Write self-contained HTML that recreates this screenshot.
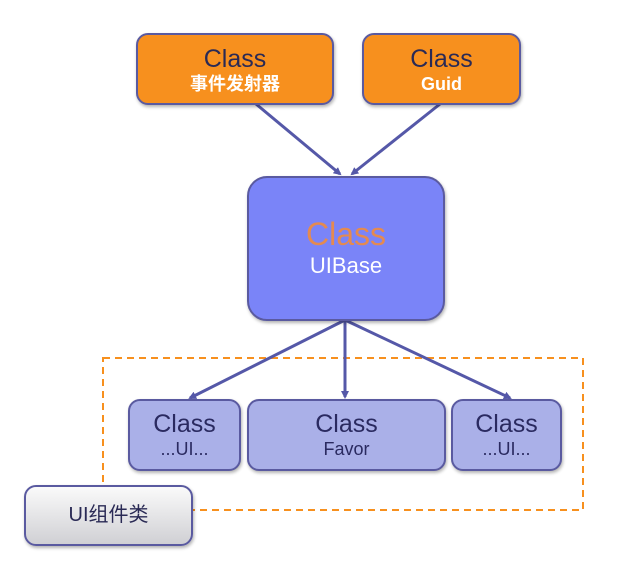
<!DOCTYPE html>
<html><head><meta charset="utf-8"><style>
body{margin:0;width:644px;height:568px;background:#fff;position:relative;overflow:hidden;font-family:"Liberation Sans","Noto Sans CJK SC",sans-serif}
.b{position:absolute;box-sizing:border-box;border:2px solid #5a5aa0;border-radius:12px;text-align:center;box-shadow:1px 2px 3px rgba(0,0,0,.3)}
.o{background:#f7901e;color:#2a2a55}
.p{background:#aab0e8;color:#2a2a60}
.t{font-size:25px;line-height:28px}
.s{font-size:18px;line-height:22px}
.w{color:#fff;font-weight:bold}
svg{position:absolute;left:0;top:0}
</style></head><body>
<svg width="644" height="568">
<defs><marker id="a" markerWidth="8" markerHeight="8" refX="6" refY="4" orient="auto" markerUnits="userSpaceOnUse"><path d="M0,0 L8,4 L0,8 z" fill="#5558a8"/></marker></defs>
<rect x="103" y="358" width="480" height="152" fill="none" stroke="#f7901e" stroke-width="2" stroke-dasharray="7,5"/>
<g stroke="#5558a8" stroke-width="3" fill="none" marker-end="url(#a)">
<line x1="256" y1="104" x2="340" y2="174"/>
<line x1="440" y1="104" x2="352" y2="174"/>
<line x1="345" y1="320" x2="190" y2="398"/>
<line x1="345" y1="320" x2="345" y2="397"/>
<line x1="345" y1="320" x2="510" y2="398"/>
</g>
</svg>
<div class="b o" style="left:136px;top:33px;width:198px;height:72px;padding-top:10px"><div class="t">Class</div><div class="s w">事件发射器</div></div>
<div class="b o" style="left:362px;top:33px;width:159px;height:72px;padding-top:10px"><div class="t">Class</div><div class="s w">Guid</div></div>
<div class="b" style="left:247px;top:176px;width:198px;height:145px;background:#7a84f8;border-radius:20px;padding-top:38px"><div style="font-size:32px;line-height:36px;color:#e48a50">Class</div><div style="font-size:22px;line-height:28px;color:#fff">UIBase</div></div>
<div class="b p" style="left:128px;top:399px;width:113px;height:72px;padding-top:9px"><div class="t">Class</div><div class="s">...UI...</div></div>
<div class="b p" style="left:247px;top:399px;width:199px;height:72px;padding-top:9px"><div class="t">Class</div><div class="s">Favor</div></div>
<div class="b p" style="left:451px;top:399px;width:111px;height:72px;padding-top:9px"><div class="t">Class</div><div class="s">...UI...</div></div>
<div class="b" style="left:24px;top:485px;width:169px;height:61px;background:linear-gradient(#fafafa,#d0d0d4);color:#2a2a55;font-size:20px;line-height:57px">UI组件类</div>
</body></html>
